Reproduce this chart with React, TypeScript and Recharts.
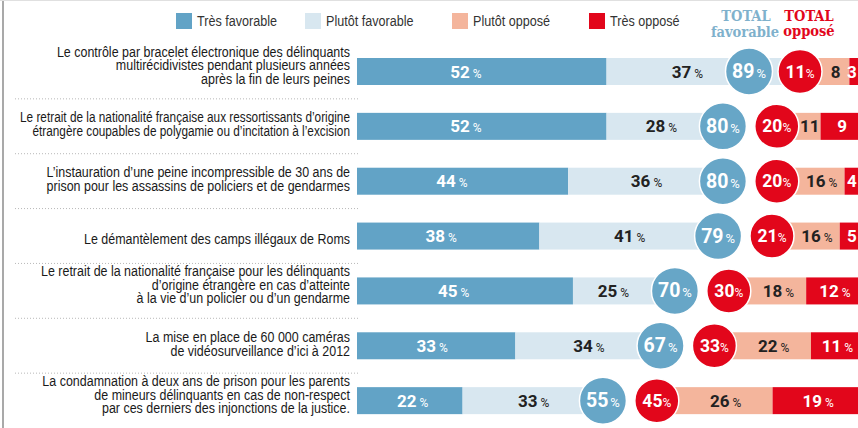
import React from 'react';
import { BarChart, Bar, XAxis, YAxis, Legend } from 'recharts';

const categories = [
  "Le contrôle par bracelet électronique des délinquants\nmultirécidivistes pendant plusieurs années\naprès la fin de leurs peines",
  "Le retrait de la nationalité française aux ressortissants d’origine\nétrangère coupables de polygamie ou d’incitation à l’excision",
  "L’instauration d’une peine incompressible de 30 ans de\nprison pour les assassins de policiers et de gendarmes",
  "Le démantèlement des camps illégaux de Roms",
  "Le retrait de la nationalité française pour les délinquants\nd’origine étrangère en cas d’atteinte\nà la vie d’un policier ou d’un gendarme",
  "La mise en place de 60 000 caméras\nde vidéosurveillance d’ici à 2012",
  "La condamnation à deux ans de prison pour les parents\nde mineurs délinquants en cas de non-respect\npar ces derniers des injonctions de la justice.",
];
const tresFavorable = [52, 52, 44, 38, 45, 33, 22];
const plutotFavorable = [37, 28, 36, 41, 25, 34, 33];
const plutotOppose = [8, 11, 16, 16, 18, 22, 26];
const tresOppose = [3, 9, 4, 5, 12, 11, 19];
const totalFavorable = [89, 80, 80, 79, 70, 67, 55];
const totalOppose = [11, 20, 20, 21, 30, 33, 45];
const seriesNames = ['Très favorable', 'Plutôt favorable', 'Plutôt opposé', 'Très opposé'];
const headerFav = ['TOTAL', 'favorable'];
const headerOpp = ['TOTAL', 'opposé'];

const W = 858;
const H = 428;
const TOP = 44;
const YW = 357;
const XMAX = 104.4;
const UNIT = (W - YW) / XMAX;
const GAP = 5.6;
const BAND = (H - TOP) / categories.length;
const FAV_COL = 749;
const OPP_COL = 800;

const C = {
  tf: '#62a3c6',
  pf: '#d8e7f0',
  po: '#f4b59c',
  to: '#e2061b',
  circleFav: '#67a6c7',
  headFav: '#7fb1cc',
  text: '#222',
};

const NUM_FONT = "Roboto, 'Liberation Sans', sans-serif";
const TEXT_FAMILY = "'Liberation Sans', Arial, sans-serif";
const HEAD_FONT = "'DejaVu Serif Condensed', 'DejaVu Serif', serif";
const LABEL_SIZE = 14.5;
const SQUEEZE = 0.86;
const MAX_LABEL_W = 330;

let measureCtx: CanvasRenderingContext2D | null = null;
const measure = (t: string, size: number) => {
  if (!measureCtx) {
    const c = document.createElement('canvas');
    measureCtx = c.getContext('2d');
  }
  if (!measureCtx) return t.length * size * 0.5;
  measureCtx.font = `${size}px ${TEXT_FAMILY}`;
  return measureCtx.measureText(t).width;
};

const data = categories.map((name, i) => ({
  name,
  tf: tresFavorable[i],
  pf: plutotFavorable[i],
  gap: GAP,
  po: plutotOppose[i],
  to: tresOppose[i],
  totFav: totalFavorable[i],
  totOpp: totalOppose[i],
}));

const Num = ({ x, y, v, color, anchor = 'middle', pct = true, size = 17, pctSize = 12, dx = 3 }: any) => (
  <text x={x} y={y} textAnchor={anchor} fill={color} fontFamily={NUM_FONT} fontWeight={700} fontSize={size}>
    {v}
    {pct ? (
      <tspan fontSize={pctSize} fontWeight={400} dx={dx}>%</tspan>
    ) : null}
  </text>
);

const TfShape = (p: any) => {
  const { x, y, width, height, payload } = p;
  return (
    <g>
      <rect x={x} y={y} width={width} height={height} fill={C.tf} />
      <Num x={x + width * 0.37 + 1} y={y + height / 2 + 6} v={payload.tf} color="#fff" anchor="start" />
    </g>
  );
};

const PfShape = (p: any) => {
  const { x, y, width, height, payload } = p;
  const end = x + width;
  const r = 23.5;
  const cx = Math.min(end - 18, FAV_COL);
  const cy = y + height / 2;
  const labelEnd = cx - r;
  return (
    <g>
      <rect x={x} y={y} width={width} height={height} fill={C.pf} />
      <Num x={Math.min(x + width / 2 - 8, labelEnd - 38)} y={cy + 6} v={payload.pf} color={C.text} />
      <circle cx={cx} cy={cy} r={r} fill={C.circleFav} stroke="#fff" strokeWidth={1.5} />
      <Num x={cx} y={cy + 6.5} v={payload.totFav} color="#fff" size={19.5} pctSize={13} dx={2} />
    </g>
  );
};

const GapShape = () => <g />;

const redCircleX = (oppStart: number) => Math.min(oppStart + 9, OPP_COL);

const PoShape = (p: any) => {
  const { x, y, height, payload } = p;
  const width = payload.po * UNIT;
  const visStart = redCircleX(x) + 22;
  const vis = x + width - visStart;
  const cx = (visStart + x + width) / 2;
  return (
    <g>
      <rect x={x} y={y} width={width} height={height} fill={C.po} />
      <Num x={cx} y={y + height / 2 + 6} v={payload.po} color={C.text} pct={vis > 36} />
    </g>
  );
};

const ToShape = (p: any) => {
  const { x, y, height, payload } = p;
  const width = payload.to * UNIT;
  const oppStart = x - payload.po * UNIT;
  const r = 22;
  const cx = redCircleX(oppStart);
  const cy = y + height / 2;
  const visW = Math.min(x + width, W) - x;
  const lx = Math.min(x + width / 2, W - 6);
  return (
    <g>
      <rect x={x} y={y} width={width} height={height} fill={C.to} />
      <Num x={lx} y={cy + 6} v={payload.to} color="#fff" pct={visW > 38} />
      <circle cx={cx} cy={cy} r={r} fill={C.to} stroke="#fff" strokeWidth={1.5} />
      <Num x={cx} y={cy + 6} v={payload.totOpp} color="#fff" size={17.5} pctSize={12} dx={0} />
    </g>
  );
};

const CategoryTick = (props: any) => {
  const { y, payload, index } = props;
  const lines = String(payload.value).split('\n');
  const n = lines.length;
  const lh = 13.6;
  const offset = n === 1 ? 8 : n === 2 ? 3 : -1;
  const widest = Math.max(...lines.map((l) => measure(l, LABEL_SIZE)));
  const s = Math.min(SQUEEZE, MAX_LABEL_W / widest);
  return (
    <g>
      <g transform={`translate(350,0) scale(${s},1)`}>
        {lines.map((l, i) => (
          <text
            key={i}
            x={0}
            y={y + offset + (i - (n - 1) / 2) * lh}
            textAnchor="end"
            fill="#1a1a1a"
            fontFamily={TEXT_FAMILY}
            fontSize={LABEL_SIZE}
          >
            {l}
          </text>
        ))}
      </g>
      {index < categories.length - 1 ? (
        <line x1={15} x2={360} y1={y + BAND / 2} y2={y + BAND / 2} stroke="#b8b8b8" strokeWidth={1} strokeDasharray="1 2" />
      ) : null}
    </g>
  );
};

const legendColors = [C.tf, C.pf, C.po, C.to];
const legendX = [176, 305, 452, 589];

const LegendContent = () => (
  <svg width={W} height={TOP} style={{ display: 'block' }}>
    {seriesNames.map((s, i) => (
      <g key={s}>
        <rect x={legendX[i]} y={13} width={16} height={16} fill={legendColors[i]} />
        <g transform={`translate(${legendX[i] + 21},0) scale(0.84,1)`}>
          <text x={0} y={26} fill="#333" fontFamily={TEXT_FAMILY} fontSize={15}>
            {s}
          </text>
        </g>
      </g>
    ))}
    <text textAnchor="middle" fill={C.headFav} fontFamily={HEAD_FONT} fontWeight={700} fontSize={14.5}>
      <tspan x={746} y={21}>{headerFav[0]}</tspan>
      <tspan x={745} y={37}>{headerFav[1]}</tspan>
    </text>
    <text textAnchor="middle" fill={C.to} fontFamily={HEAD_FONT} fontWeight={700} fontSize={14.5}>
      <tspan x={809} y={21}>{headerOpp[0]}</tspan>
      <tspan x={809} y={36}>{headerOpp[1]}</tspan>
    </text>
  </svg>
);

export default function App() {
  return (
    <div style={{ position: 'absolute', left: 0, top: 0, width: W, height: H, background: '#fff', overflow: 'hidden' }}>
      <BarChart
        width={W}
        height={H}
        data={data}
        layout="vertical"
        margin={{ top: TOP, right: 0, bottom: 0, left: 0 }}
        barSize={27}
      >
        <XAxis type="number" hide domain={[0, XMAX]} allowDataOverflow />
        <YAxis
          type="category"
          dataKey="name"
          width={YW}
          axisLine={false}
          tickLine={false}
          tick={<CategoryTick />}
          interval={0}
        />
        <Legend
          layout="horizontal"
          verticalAlign="middle"
          align="center"
          wrapperStyle={{ top: 0, left: 0, width: W, height: TOP }}
          content={<LegendContent />}
        />
        <Bar dataKey="tf" name={seriesNames[0]} stackId="a" fill={C.tf} shape={<TfShape />} isAnimationActive={false} />
        <Bar dataKey="pf" name={seriesNames[1]} stackId="a" fill={C.pf} shape={<PfShape />} isAnimationActive={false} />
        <Bar dataKey="gap" stackId="a" fill="none" shape={<GapShape />} isAnimationActive={false} legendType="none" />
        <Bar dataKey="po" name={seriesNames[2]} stackId="a" fill={C.po} shape={<PoShape />} isAnimationActive={false} />
        <Bar dataKey="to" name={seriesNames[3]} stackId="a" fill={C.to} shape={<ToShape />} isAnimationActive={false} />
      </BarChart>
      <div style={{ position: 'absolute', left: 2, top: 0, width: 2, height: H, background: '#a9a9a9' }} />
      <div style={{ position: 'absolute', left: 0, top: 0, width: W, height: 1, background: '#e0e0e0' }} />
    </div>
  );
}
